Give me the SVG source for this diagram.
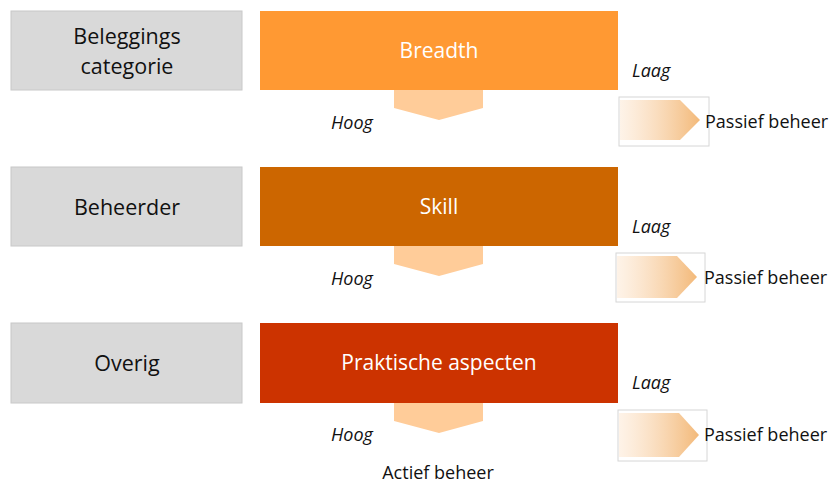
<svg xmlns="http://www.w3.org/2000/svg" width="829" height="483" viewBox="0 0 829 483">
<style>
.cat{fill:#D9D9D9;stroke:#C8C8C8;stroke-width:1}
.lbl{font-family:"Open Sans","Liberation Sans",sans-serif;font-size:21.5px;fill:#111;text-anchor:middle}
.ttl{font-family:"Open Sans","Liberation Sans",sans-serif;font-size:21px;fill:#fff;text-anchor:middle}
.it{font-family:"Open Sans","Liberation Sans",sans-serif;font-size:18px;font-style:italic;fill:#111}
.pb{font-family:"Open Sans","Liberation Sans",sans-serif;font-size:18px;fill:#111}
.down{fill:#FFCC99}
.frame{fill:#fff;stroke:#D6D6D6;stroke-width:1}
.chev{fill:url(#g)}
</style>
<defs>
<linearGradient id="g" x1="0" y1="0" x2="1" y2="0">
<stop offset="0" stop-color="#FDEBD9" stop-opacity="0.6"/>
<stop offset="1" stop-color="#F3B979"/>
</linearGradient>
</defs>
<g id="row1">
<g id="cat1"><rect class="cat" x="11" y="11" width="231" height="79"/><text class="lbl" x="127" y="44">Beleggings</text><text class="lbl" x="127" y="74">categorie</text></g>
<g id="breadth"><rect x="260" y="11" width="358" height="79" fill="#FF9933"/><text class="ttl" x="439" y="58">Breadth</text></g>
<g id="down1"><polygon class="down" points="394,90 483,90 483,108 439,120 394,108"/></g>
<text class="it" x="632" y="77">Laag</text>
<text class="it" x="331" y="129">Hoog</text>
<g id="passief1"><rect class="frame" x="619" y="97" width="90" height="49"/><polygon class="chev" points="620,100 680,100 700,120 680,140 620,140"/><text class="pb" x="705" y="128">Passief beheer</text></g>
</g>
<g id="row2">
<g id="cat2"><rect class="cat" x="11" y="167" width="231" height="79"/><text class="lbl" x="127" y="215">Beheerder</text></g>
<g id="skill"><rect x="260" y="167" width="358" height="79" fill="#CC6600"/><text class="ttl" x="439" y="214">Skill</text></g>
<g id="down2"><polygon class="down" points="394,246 483,246 483,264 439,276 394,264"/></g>
<text class="it" x="632" y="233">Laag</text>
<text class="it" x="331" y="285">Hoog</text>
<g id="passief2"><rect class="frame" x="616" y="253" width="89" height="49"/><polygon class="chev" points="617,256 677,256 697,277 677,298 617,298"/><text class="pb" x="704" y="284">Passief beheer</text></g>
</g>
<g id="row3">
<g id="cat3"><rect class="cat" x="11" y="323" width="231" height="80"/><text class="lbl" x="127" y="371">Overig</text></g>
<g id="praktisch"><rect x="260" y="323" width="358" height="80" fill="#CC3300"/><text class="ttl" x="439" y="370">Praktische aspecten</text></g>
<g id="down3"><polygon class="down" points="394,403 483,403 483,421 439,433 394,421"/></g>
<text class="it" x="632" y="389">Laag</text>
<text class="it" x="331" y="441">Hoog</text>
<g id="passief3"><rect class="frame" x="618" y="410" width="89" height="51"/><polygon class="chev" points="619,413 679,413 699,435 679,457 619,457"/><text class="pb" x="704" y="441">Passief beheer</text></g>
<text class="pb" x="438" y="479" text-anchor="middle">Actief beheer</text>
</g>
<g id="connectors"/>
</svg>
